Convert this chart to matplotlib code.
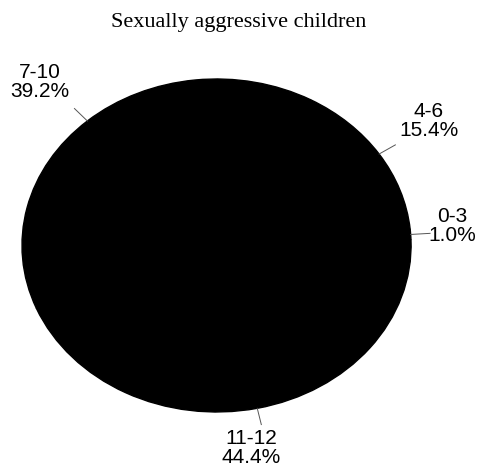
import numpy as np
import matplotlib.pyplot as plt

# Age groups of sexually aggressive children
groups = ["0-3", "4-6", "7-10", "11-12"]
shares = [1.0, 15.4, 39.2, 44.4]

fig = plt.figure(figsize=(4.78, 4.73), dpi=100)
ax = fig.add_axes([0.046, 0.129, 0.814, 0.704])

wedges, _ = ax.pie(shares, startangle=2, counterclock=True,
                   colors=["black"] * len(shares),
                   wedgeprops=dict(edgecolor="black", linewidth=1))
ax.set_aspect("auto")
ax.set_xlim(-1, 1)
ax.set_ylim(-1, 1)
ax.axis("off")

# Posição das etiquetas (coordenadas do eixo)
label_pos = {"0-3": (1.21, 0.12), "4-6": (1.09, 0.75),
             "7-10": (-0.91, 0.98), "11-12": (0.18, -1.215)}
for w, name, pct in zip(wedges, groups, shares):
    mid = np.deg2rad((w.theta1 + w.theta2) / 2)
    cx, cy = np.cos(mid), np.sin(mid)
    ax.plot([cx * 1.0, cx * 1.1], [cy * 1.0, cy * 1.1],
            color="#555555", linewidth=0.7, clip_on=False)
    tx, ty = label_pos[name]
    ax.text(tx, ty, f"{name}\n{pct:.1f}%", ha="center", va="center",
            fontsize=15, family="Liberation Sans", linespacing=1.0,
            clip_on=False)

fig.text(0.5, 0.953, "Sexually aggressive children", ha="center", va="center",
         fontsize=16, family="Liberation Serif")

fig.savefig("out.png", dpi=100)
